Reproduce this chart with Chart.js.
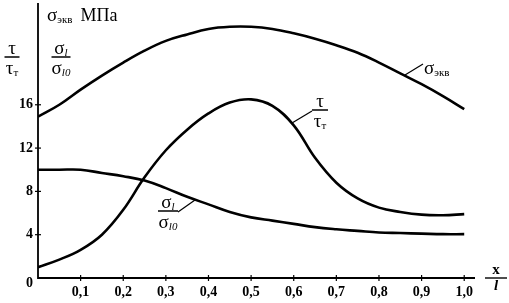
<!DOCTYPE html>
<html>
<head>
<meta charset="utf-8">
<script src="https://cdn.jsdelivr.net/npm/chart.js@4.4.0/dist/chart.umd.min.js"></script>
<style>
  body { margin: 0; background: #fff; }
  #c { display: block; }
</style>
</head>
<body>
<canvas id="c" width="509" height="303"></canvas>
<script>
// x/l positions along the beam
const xPos = [0, 0.05, 0.1, 0.15, 0.2, 0.25, 0.3, 0.35, 0.4, 0.45, 0.5,
              0.55, 0.6, 0.65, 0.7, 0.75, 0.8, 0.85, 0.9, 0.95, 1.0];
// sigma_ekv, MPa
const sigmaEkv = [14.9, 16.0, 17.4, 18.7, 19.9, 21.0, 21.9, 22.5, 23.0, 23.2, 23.2,
                  23.0, 22.6, 22.1, 21.5, 20.8, 19.9, 18.9, 17.9, 16.8, 15.6];
// tau / tau_T
const tauRatio = [1.0, 1.7, 2.6, 4.0, 6.3, 9.3, 11.8, 13.7, 15.2, 16.2, 16.5,
                  15.9, 14.1, 11.1, 8.8, 7.35, 6.5, 6.1, 5.85, 5.8, 5.9];
// sigma_l / sigma_l0
const sigmaRatio = [10.0, 10.0, 10.0, 9.7, 9.4, 9.0, 8.3, 7.5, 6.8, 6.1, 5.6,
                    5.3, 5.0, 4.7, 4.5, 4.35, 4.2, 4.15, 4.1, 4.05, 4.05];

const yTicks = [0, 4, 8, 12, 16];
const xTicks = [0.1, 0.2, 0.3, 0.4, 0.5, 0.6, 0.7, 0.8, 0.9, 1.0];

const toPts = ys => ys.map((y, i) => ({x: xPos[i], y: y}));

function series(ys) {
  return {
    data: toPts(ys),
    borderColor: '#000',
    borderWidth: 2.6,
    pointRadius: 0,
    fill: false,
    tension: 0.4
  };
}

const SERIF = '"Liberation Serif", "Times New Roman", serif';

// draws "main" with a small subscript, returns end x
function subText(ctx, x, y, main, sub, size, align, subItalic) {
  const subFont = (subItalic ? 'italic ' : '') + Math.round(size * 0.6) + 'px ' + SERIF;
  ctx.font = size + 'px ' + SERIF;
  const w1 = ctx.measureText(main).width;
  ctx.font = subFont;
  const w2 = ctx.measureText(sub).width;
  let x0 = x;
  if (align === 'center') x0 = x - (w1 + w2) / 2;
  ctx.textAlign = 'left';
  ctx.textBaseline = 'alphabetic';
  ctx.font = size + 'px ' + SERIF;
  ctx.fillText(main, x0, y);
  ctx.font = subFont;
  ctx.fillText(sub, x0 + w1, y + 2);
  return x0 + w1 + w2;
}

function fraction(ctx, cx, ly, top, topSub, bot, botSub, size, width, subItalic) {
  ctx.save();
  subText(ctx, cx, ly - 3, top, topSub, size, 'center', subItalic);
  subText(ctx, cx, ly + size - 2, bot, botSub, size, 'center', subItalic);
  ctx.lineWidth = 1.5;
  ctx.beginPath();
  ctx.moveTo(cx - width / 2, ly);
  ctx.lineTo(cx + width / 2, ly);
  ctx.stroke();
  ctx.restore();
}

function leader(ctx, x1, y1, x2, y2) {
  ctx.beginPath();
  ctx.moveTo(x1, y1);
  ctx.lineTo(x2, y2);
  ctx.stroke();
}

const axesPlugin = {
  id: 'axesPlugin',
  afterDraw(chart) {
    const ctx = chart.ctx;
    const xs = chart.scales.x, ys = chart.scales.y;
    const x0 = xs.getPixelForValue(0), y0 = ys.getPixelForValue(0);
    ctx.save();
    ctx.strokeStyle = '#000';
    ctx.fillStyle = '#000';
    ctx.lineWidth = 1.8;
    // axes
    ctx.beginPath();
    ctx.moveTo(x0, 3);
    ctx.lineTo(x0, y0);
    ctx.lineTo(475, y0);
    ctx.stroke();
    ctx.lineWidth = 1.2;
    // y ticks
    ctx.font = 'bold 14px ' + SERIF;
    ctx.textAlign = 'right';
    ctx.textBaseline = 'middle';
    yTicks.forEach(v => {
      const py = ys.getPixelForValue(v);
      if (v !== 0) leader(ctx, x0 - 3, py, x0 + 3, py);
      ctx.fillText(String(v), x0 - 5, v === 0 ? py + 5 : py);
    });
    // x ticks
    ctx.textAlign = 'center';
    ctx.textBaseline = 'middle';
    xTicks.forEach(v => {
      const px = xs.getPixelForValue(v);
      leader(ctx, px, y0 - 3, px, y0 + 3);
      ctx.fillText(v.toFixed(1).replace('.', ','), px, y0 + 14);
    });
    // x/l label
    ctx.font = 'bold 15px ' + SERIF;
    ctx.fillText('x', 496, y0 - 8);
    ctx.font = 'italic bold 15px ' + SERIF;
    ctx.fillText('l', 496, y0 + 8);
    ctx.lineWidth = 1.4;
    leader(ctx, 485, y0, 507, y0);

    // axis titles
    ctx.lineWidth = 1.2;
    const e = subText(ctx, 47, 21, 'σ', 'экв', 19);
    ctx.font = '18px ' + SERIF;
    ctx.fillText('МПа', e + 8, 21);
    fraction(ctx, 12, 57, 'τ', '', 'τ', 'т', 19, 15, false);
    fraction(ctx, 61, 57, 'σ', 'l', 'σ', 'l0', 19, 19, true);

    // curve labels
    subText(ctx, 424, 74, 'σ', 'экв', 19);
    leader(ctx, 405, 75, 423, 64);
    fraction(ctx, 320, 110, 'τ', '', 'τ', 'т', 19, 16, false);
    leader(ctx, 292, 123, 312, 111);
    fraction(ctx, 168, 211, 'σ', 'l', 'σ', 'l0', 19, 20, true);
    leader(ctx, 178, 212, 195, 200);
    ctx.restore();
  }
};

new Chart(document.getElementById('c'), {
  type: 'line',
  data: {
    datasets: [series(sigmaEkv), series(tauRatio), series(sigmaRatio)]
  },
  options: {
    responsive: false,
    animation: false,
    devicePixelRatio: 1,
    layout: { padding: { left: 38, right: 32, top: 3, bottom: 25 } },
    plugins: { legend: { display: false }, tooltip: { enabled: false } },
    scales: {
      x: { type: 'linear', min: 0, max: 1.03, display: false },
      y: { min: 0, max: 25.4, display: false }
    }
  },
  plugins: [axesPlugin]
});
</script>
</body>
</html>
